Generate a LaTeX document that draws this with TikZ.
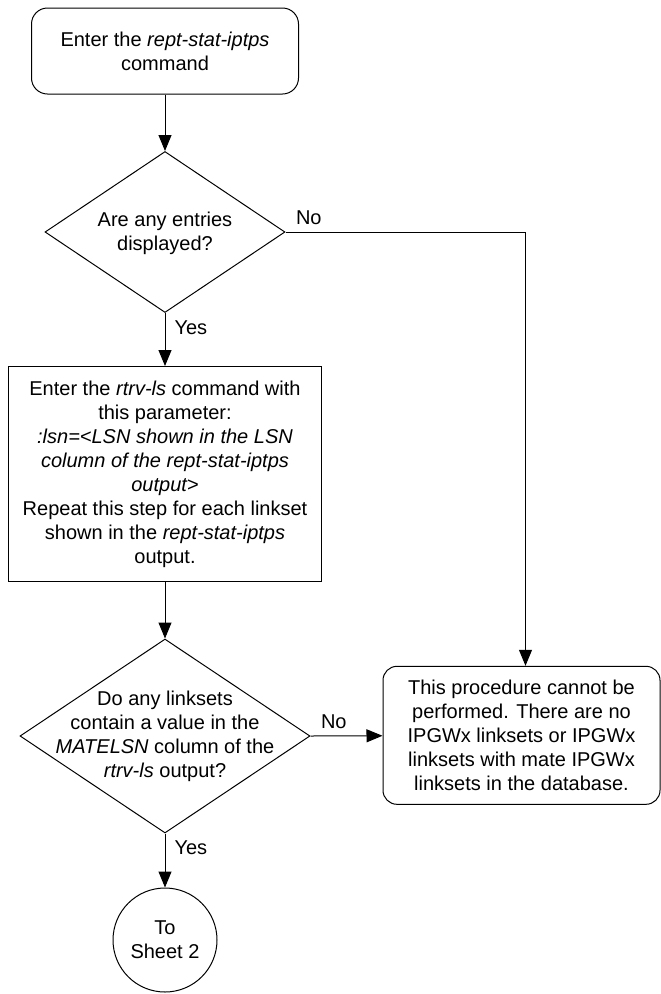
\documentclass[tikz,border=0pt]{standalone}
\usepackage{fontspec}
\setmainfont{Liberation Sans}
\usetikzlibrary{shapes.geometric,arrows.meta}
\begin{document}
\begin{tikzpicture}[x=1pt,y=-1pt,line width=1pt,font=\fontsize{20}{24}\selectfont,
  >={Triangle[length=16pt,width=13pt]},
  startbox/.style={draw,rounded corners=16pt,minimum width=267pt,minimum height=86pt,inner sep=0pt,align=center},
  stepbox/.style={draw,minimum width=313pt,minimum height=215pt,inner sep=0pt,align=center},
  endbox/.style={draw,rounded corners=14pt,minimum width=277pt,minimum height=138pt,inner sep=0pt,align=center},
  decision/.style={draw,diamond,inner sep=0pt},
  qtext/.style={align=center,inner sep=0pt},
  nolbl/.style={anchor=south west,inner sep=0pt,xshift=10pt,yshift=7pt},
  yeslbl/.style={anchor=west,inner sep=0pt,xshift=9pt,yshift=-14.5pt}]
\useasboundingbox (0,0) rectangle (661,994);
% boxes
\node[startbox] (enter) at (165,51) {Enter the \textit{rept-stat-iptps}\\command};
\node[decision,minimum width=240pt,minimum height=161pt] (entries) at (165,232) {};
\node[qtext] (entriesq) at (165,233) {Are any entries\\displayed?};
\node[stepbox] (rtrv) at (165,474) {Enter the \textit{rtrv-ls} command with\\this parameter:\\
  \textit{:lsn=<LSN shown in the LSN}\\\textit{column of the rept-stat-iptps}\\\textit{output>}\\
  Repeat this step for each linkset\\shown in the \textit{rept-stat-iptps}\\output.};
\node[decision,minimum width=290pt,minimum height=194pt] (matelsn) at (165,736) {};
\node[qtext] (matelsnq) at (165,736) {Do any linksets\\contain a value in the\\\textit{MATELSN} column of the\\\textit{rtrv-ls} output?};
\node[endbox] (cannot) at (521.5,735.3) {This procedure cannot be\\performed. There are no\\IPGWx linksets or IPGWx\\linksets with mate IPGWx\\linksets in the database.};
\node[draw,circle,minimum size=104pt,inner sep=0pt,align=center] (sheet) at (165,940) {To\\Sheet 2};
% connectors
\draw[->] (enter) -- (entries);
\draw[->] (entries.south) node[yeslbl] {Yes} -- (rtrv);
\draw[->] (entries.east) node[nolbl] {No} -| ([xshift=4pt]cannot.north);
\draw[->] (rtrv) -- (matelsn);
\draw[->] (matelsn.east) node[nolbl] {No} -- (cannot);
\draw[->] (matelsn.south) node[yeslbl] {Yes} -- (sheet);
\end{tikzpicture}
\end{document}
